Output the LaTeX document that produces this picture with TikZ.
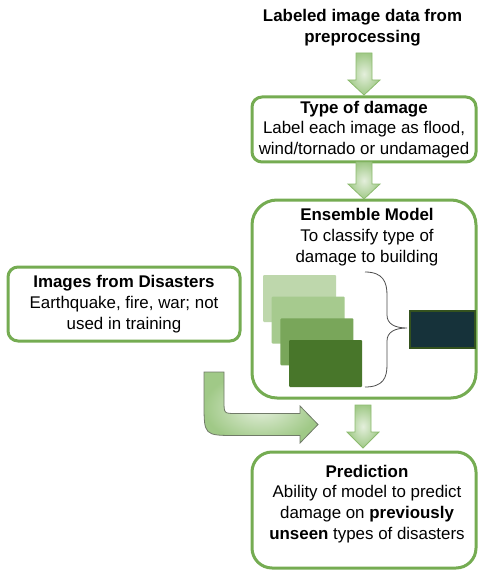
\documentclass[tikz,border=0pt]{standalone}
\usepackage{fontspec}
\setmainfont{Liberation Sans}
\definecolor{boxgreen}{RGB}{117,172,82}
\definecolor{arrowline}{RGB}{140,186,110}
\definecolor{arrowdark}{RGB}{160,201,135}
\definecolor{arrowlight}{RGB}{228,239,220}
\definecolor{bentline}{RGB}{112,122,104}
\definecolor{layerA}{RGB}{190,215,172}
\definecolor{layerB}{RGB}{166,202,142}
\definecolor{layerC}{RGB}{121,166,90}
\definecolor{layerD}{RGB}{72,118,42}
\definecolor{votefill}{RGB}{22,50,58}
\definecolor{voteline}{RGB}{52,82,30}
\begin{document}
\begin{tikzpicture}[x=1pt,y=-1pt,font=\fontsize{16.9}{20.8}\selectfont,
  box/.style={draw=boxgreen,line width=3pt,fill=white,align=center,inner sep=0pt},
  vertarrow/.style={draw=arrowline,line width=0.8pt,inner color=arrowlight,outer color=arrowdark},
  bentarrow/.style={draw=bentline,line width=0.8pt,inner color=arrowlight,outer color=arrowdark}]
  \useasboundingbox (0,0) rectangle (478,572);

  % input data
  \node[align=center] (source) at (362.5,28) {\textbf{Labeled image data from}\\\textbf{preprocessing}};

  % flow boxes
  \node[box,minimum width=224pt,minimum height=65pt,rounded corners=10pt] (type) at (364,129.5)
    {\textbf{Type of damage}\\Label each image as flood,\\wind/tornado or undamaged};
  \node[box,minimum width=224pt,minimum height=198pt,rounded corners=25pt] (ensemble) at (364,299) {};
  \node[align=center] (enstxt) at (367,237) {\textbf{Ensemble Model}\\To classify type of\\damage to building};
  \node[box,minimum width=232pt,minimum height=74pt,rounded corners=10pt] (disasters) at (124,304)
    {\textbf{Images from Disasters}\\Earthquake, fire, war; not\\used in training};
  \node[box,minimum width=224pt,minimum height=116pt,rounded corners=20pt] (pred) at (364,510) {};
  \node[align=center] (predtxt) at (367,504)
    {\textbf{Prediction}\\Ability of model to predict\\damage on \textbf{previously}\\\textbf{unseen} types of disasters};

  % stacked models
  \foreach \i/\col in {0/layerA,1/layerB,2/layerC,3/layerD}
    \fill[\col,rounded corners=1pt] (263+8.7*\i,275+21.7*\i) rectangle +(73,47);
  \draw[black!70,line width=0.8pt] (365,272) .. controls (383,272) and (387,282) .. (387,295) -- (387,315)
    .. controls (387,324) and (395,328) .. (407,328) .. controls (395,328) and (387,332) .. (387,341)
    -- (387,365) .. controls (387,378) and (383,387) .. (365,387);
  \node[draw=voteline,line width=2.5pt,fill=votefill,minimum width=65pt,minimum height=37pt,inner sep=0pt]
    (vote) at (442.5,329.5) {};

  % block arrows
  \foreach \cx/\ya/\yb/\yc in {364/53/80/95, 364/162/184/199, 363/405/432/448}
    \path[vertarrow] (\cx-8,\ya) -- (\cx+8,\ya) -- (\cx+8,\yb) -- (\cx+16,\yb) -- (\cx,\yc)
      -- (\cx-16,\yb) -- (\cx-8,\yb) -- cycle;
  \path[bentarrow] (204,372) -- (204,403) .. controls (204,435.5) .. (236,435.5) -- (300,435.5)
    -- (300,443) -- (318,424.5) -- (300,406) -- (300,413.5) -- (236,413.5)
    .. controls (224,413.5) .. (224,401) -- (224,372) -- cycle;
\end{tikzpicture}
\end{document}
